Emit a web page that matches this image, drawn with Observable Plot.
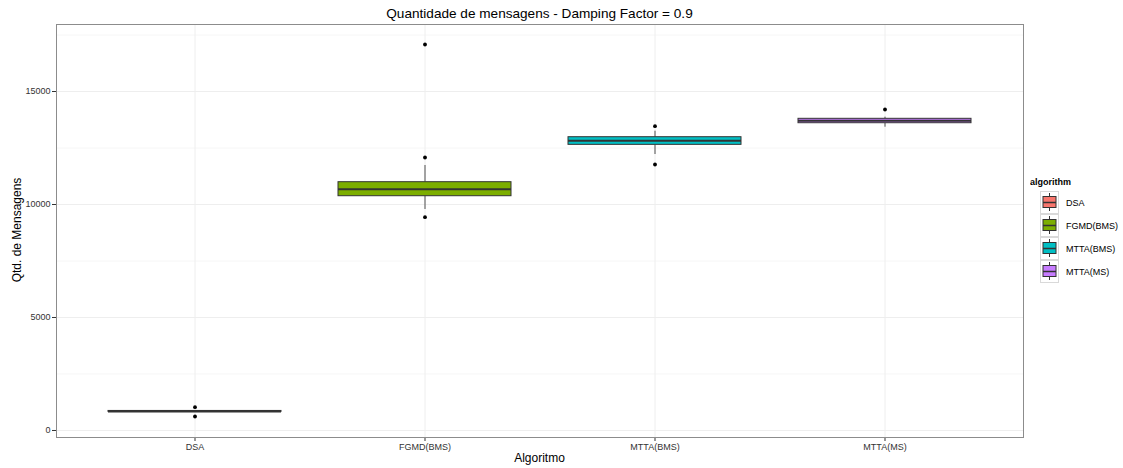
<!DOCTYPE html>
<html>
<head>
<meta charset="utf-8">
<script src="https://cdn.jsdelivr.net/npm/d3@7"></script>
<script src="https://cdn.jsdelivr.net/npm/@observablehq/plot@0.6"></script>
<style>
  html, body { margin: 0; padding: 0; background: #fff; }
  #wrap { position: relative; width: 1123px; height: 468px; font-family: "Liberation Sans", Arial, sans-serif; }
  #wrap svg.plot { position: absolute; left: 0; top: 0; }
  .lbl { position: absolute; color: #000; white-space: nowrap; }
  #title { left: 56px; width: 967px; top: 6px; text-align: center; font-size: 13.6px; }
  #xlab { left: 56px; width: 967px; top: 451px; text-align: center; font-size: 12px; }
  #ylab { left: 17px; top: 230px; font-size: 12px; transform: translate(-50%, -50%) rotate(-90deg); }
  #legend { position: absolute; left: 1030px; top: 174px; }
</style>
</head>
<body>
<div id="wrap">
  <div id="title" class="lbl"></div>
  <div id="xlab" class="lbl"></div>
  <div id="ylab" class="lbl"></div>
  <div id="legend"></div>
</div>
<script>
// ---- data ----
const categories = ["DSA", "FGMD(BMS)", "MTTA(BMS)", "MTTA(MS)"];
const colors = ["#F8766D", "#7CAE00", "#00BFC4", "#C77CFF"];
const q1 = [825, 10367, 12640, 13597];
const median = [845, 10677, 12818, 13704];
const q3 = [865, 10987, 12978, 13792];
const whiskerLow = [805, 9779, 12212, 13420];
const whiskerHigh = [885, 11726, 13243, 13863];
const outlierAlg = ["DSA", "DSA", "FGMD(BMS)", "FGMD(BMS)", "FGMD(BMS)", "MTTA(BMS)", "MTTA(BMS)", "MTTA(MS)"];
const outlierVal = [1031, 620, 17080, 12080, 9438, 13465, 11770, 14204];
const yTicks = [0, 5000, 10000, 15000];
const yMinor = [2500, 7500, 12500, 17500];
const titleText = "Quantidade de mensagens - Damping Factor = 0.9";
const xTitle = "Algoritmo";
const yTitle = "Qtd. de Mensagens";
const legendTitle = "algorithm";

// ---- tables ----
const boxes = categories.map((c, i) => ({alg: c, q1: q1[i], med: median[i], q3: q3[i], lo: whiskerLow[i], hi: whiskerHigh[i]}));
const outliers = outlierAlg.map((a, i) => ({alg: a, v: outlierVal[i]}));

const chart = Plot.plot({
  width: 1123,
  height: 468,
  marginLeft: 56,
  marginRight: 100,
  marginTop: 24,
  marginBottom: 31,
  style: {fontFamily: "'Liberation Sans', Arial, sans-serif", fontSize: "9px", color: "#333", background: "#fff"},
  x: {type: "band", domain: categories, paddingInner: 0.25, paddingOuter: 0.225, label: null, tickSize: 4, tickPadding: 2},
  y: {domain: [-310, 17965], label: null, ticks: yTicks, tickSize: 4, tickPadding: 2, tickFormat: d => String(d)},
  color: {domain: categories, range: colors},
  marks: [
    Plot.ruleY(yMinor, {stroke: "#f6f6f6", strokeWidth: 1}),
    Plot.ruleY(yTicks, {stroke: "#eeeeee", strokeWidth: 1}),
    Plot.ruleX(categories, {x: d => d, stroke: "#eeeeee", strokeWidth: 1}),
    Plot.ruleX(boxes, {x: "alg", y1: "lo", y2: "q1", stroke: "#333", strokeOpacity: 0.85}),
    Plot.ruleX(boxes, {x: "alg", y1: "q3", y2: "hi", stroke: "#333", strokeOpacity: 0.85}),
    Plot.barY(boxes, {x: "alg", y1: "q1", y2: "q3", fill: "alg", stroke: "#333", strokeWidth: 1}),
    Plot.tickY(boxes, {x: "alg", y: "med", stroke: "#333", strokeWidth: 2}),
    Plot.dot(outliers, {x: "alg", y: "v", r: 1.9, fill: "#000", stroke: null}),
    Plot.frame({stroke: "#8c8c8c", strokeWidth: 1})
  ]
});
chart.classList.add("plot");
document.getElementById("wrap").prepend(chart);

document.getElementById("title").textContent = titleText;
document.getElementById("xlab").textContent = xTitle;
document.getElementById("ylab").textContent = yTitle;

// ---- legend ----
const lw = 90, keyH = 23, keyW = 18;
const lsvg = d3.select("#legend").append("svg")
  .attr("width", lw).attr("height", 20 + keyH * categories.length + 4)
  .style("font-family", "'Liberation Sans', Arial, sans-serif");
lsvg.append("text").attr("x", 0).attr("y", 11).attr("font-size", 9).attr("font-weight", "bold").text(legendTitle);
categories.forEach((c, i) => {
  const g = lsvg.append("g").attr("transform", `translate(10, ${17 + i * keyH})`);
  g.append("rect").attr("x", 0.5).attr("y", 0.5).attr("width", keyW).attr("height", keyH - 1)
    .attr("fill", "#fff").attr("stroke", "#d9d9d9");
  const cx = 0.5 + keyW / 2;
  g.append("line").attr("x1", cx).attr("x2", cx).attr("y1", 2).attr("y2", keyH - 3).attr("stroke", "#333");
  g.append("rect").attr("x", 3).attr("y", 5.5).attr("width", keyW - 5).attr("height", keyH - 12)
    .attr("fill", colors[i]).attr("stroke", "#333");
  g.append("line").attr("x1", 3).attr("x2", keyW - 2).attr("y1", keyH / 2).attr("y2", keyH / 2).attr("stroke", "#333").attr("stroke-width", 1.5);
  g.append("text").attr("x", keyW + 8).attr("y", keyH / 2 + 3.5).attr("font-size", 9).attr("fill", "#000").text(c);
});
</script>
</body>
</html>
